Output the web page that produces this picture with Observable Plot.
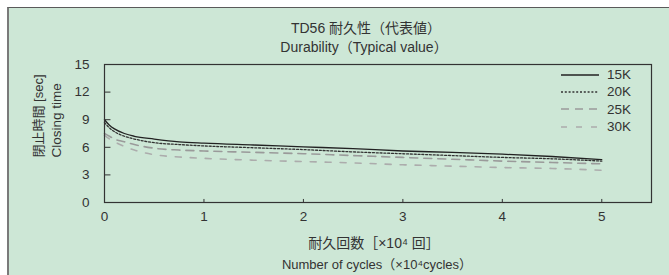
<!DOCTYPE html>
<html>
<head>
<meta charset="utf-8">
<script src="https://cdn.jsdelivr.net/npm/d3@7"></script>
<script src="https://cdn.jsdelivr.net/npm/@observablehq/plot@0.6"></script>
<style>
  html, body { margin: 0; padding: 0; background: #fff; }
  #wrap { position: relative; width: 669px; height: 275px; overflow: hidden; }
  #bg { position: absolute; left: 7px; top: 7px; width: 680px; height: 290px;
        background: #cde7d6; border-left: 2px solid #7a7a7a; border-top: 1px solid #5a5a5a; }
  #chart { position: absolute; left: 0; top: 0; }
  #legend { position: absolute; left: 561px; top: 66px; font-family: "Liberation Sans", Arial, sans-serif;
            font-size: 13.5px; color: #333; }
  #legend .row { display: flex; align-items: center; height: 17.3px; }
  #legend svg { width: 38px; height: 6px; margin-right: 8px; }
</style>
</head>
<body>
<div id="wrap">
  <div id="bg"></div>
  <div id="chart"></div>
  <div id="legend"></div>
</div>
<script>
// ---- data ----
const seriesNames = ["15K", "20K", "25K", "30K"];
const cycles = [0, 0.05, 0.1, 0.2, 0.3, 0.5, 0.75, 1, 1.5, 2, 2.5, 3, 3.5, 4, 4.5, 5];
const k15 = [9.0, 8.4, 8.0, 7.5, 7.2, 6.9, 6.6, 6.45, 6.25, 6.05, 5.85, 5.6, 5.45, 5.25, 5.0, 4.65];
const k20 = [8.7, 8.1, 7.7, 7.2, 6.9, 6.5, 6.3, 6.15, 5.95, 5.75, 5.5, 5.3, 5.1, 4.9, 4.75, 4.5];
const k25 = [7.5, 7.2, 6.9, 6.6, 6.3, 5.9, 5.7, 5.6, 5.45, 5.3, 5.1, 4.9, 4.7, 4.5, 4.35, 4.2];
const k30 = [7.3, 6.9, 6.6, 6.1, 5.7, 5.2, 4.95, 4.8, 4.6, 4.45, 4.3, 4.1, 3.95, 3.8, 3.7, 3.5];
const xTicks = [0, 1, 2, 3, 4, 5];
const yTicks = [0, 3, 6, 9, 12, 15];
const titleLines = ["TD56 耐久性（代表値）", "Durability（Typical value）"];
const xLabelLines = ["耐久回数［×10⁴ 回］", "Number of cycles（×10⁴cycles）"];
const yLabelLines = ["閉止時間 [sec]", "Closing time"];

// ---- styles per series ----
const styles = {
  "15K": {stroke: "#222", dash: null, width: 1.3},
  "20K": {stroke: "#333", dash: "2,1.8", width: 1.3},
  "25K": {stroke: "#9a9a9a", dash: "8,6", width: 1.6},
  "30K": {stroke: "#acacac", dash: "6,9", width: 1.6}
};
const valuesBySeries = {"15K": k15, "20K": k20, "25K": k25, "30K": k30};
const rows = seriesNames.map(s => cycles.map((c, i) => ({series: s, c, v: valuesBySeries[s][i]})));

const font = "'Liberation Sans', Arial, sans-serif";
const cjk = "'Liberation Sans', 'Noto Sans CJK JP', sans-serif";

const chart = Plot.plot({
  width: 669,
  height: 275,
  marginLeft: 104,
  marginRight: 18,
  marginTop: 64,
  marginBottom: 73,
  style: {background: "transparent", fontFamily: font, fontSize: "13.5px", color: "#333", overflow: "visible"},
  x: {domain: [0, 5.5], ticks: xTicks, tickFormat: d => String(d), tickSize: 0, tickPadding: 9, label: null},
  y: {domain: [0, 15], ticks: yTicks, tickFormat: d => String(d), tickSize: 0, tickPadding: 15, label: null},
  marks: [
    Plot.ruleY(yTicks.slice(1, -1), {x1: 0, x2: 0.065, stroke: "#333", strokeWidth: 1}),
    Plot.ruleX(xTicks.slice(1), {y1: 0, y2: 0.33, stroke: "#333", strokeWidth: 1}),
    ...rows.map(r => Plot.line(r, {
      x: "c", y: "v", curve: "monotone-x",
      stroke: styles[r[0].series].stroke,
      strokeWidth: styles[r[0].series].width,
      strokeDasharray: styles[r[0].series].dash
    })),
    Plot.frame({stroke: "#333", strokeWidth: 1.2}),
    Plot.text([titleLines[0]], {frameAnchor: "top", dx: -12, dy: -36, fontSize: 14, fontFamily: cjk, fill: "#333", lineAnchor: "middle"}),
    Plot.text([titleLines[1]], {frameAnchor: "top", dx: -14, dy: -17, fontSize: 14, fontFamily: cjk, fill: "#333", lineAnchor: "middle"}),
    Plot.text([xLabelLines[0]], {frameAnchor: "bottom", dx: -4, dy: 41, fontSize: 14, fontFamily: cjk, fill: "#333", lineAnchor: "middle"}),
    Plot.text([xLabelLines[1]], {frameAnchor: "bottom", dx: -1, dy: 62, fontSize: 13, fontFamily: cjk, fill: "#333", lineAnchor: "middle"}),
    Plot.text([yLabelLines[0]], {frameAnchor: "left", dx: -66, dy: 24, rotate: -90, textAnchor: "start", fontSize: 13, fontFamily: cjk, fill: "#333", lineAnchor: "middle"}),
    Plot.text([yLabelLines[1]], {frameAnchor: "left", dx: -48, dy: 24, rotate: -90, textAnchor: "start", fontSize: 13.5, fontFamily: "'Liberation Sans Narrow', 'Liberation Sans', Arial, sans-serif", fill: "#333", lineAnchor: "middle"})
  ]
});
document.getElementById("chart").appendChild(chart);

// ---- legend ----
const legend = d3.select("#legend");
for (const s of seriesNames) {
  const row = legend.append("div").attr("class", "row");
  const sv = row.append("svg");
  sv.append("line").attr("x1", 0).attr("x2", 38).attr("y1", 3).attr("y2", 3)
    .attr("stroke", styles[s].stroke).attr("stroke-width", styles[s].width)
    .attr("stroke-dasharray", styles[s].dash);
  row.append("span").text(s);
}
</script>
</body>
</html>
